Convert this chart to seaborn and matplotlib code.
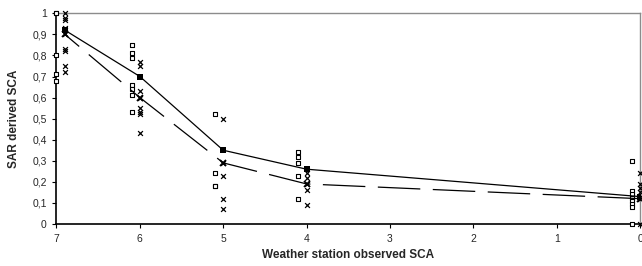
import matplotlib
matplotlib.use("Agg")
import matplotlib.pyplot as plt
import pandas as pd
import seaborn as sns
from matplotlib.ticker import FuncFormatter

# weather station observed SCA classes
station = [7, 6, 5, 4, 0]

# SAR derived SCA, first method (squares)
sq_7 = [1.0, 1.0, 0.80, 0.71, 0.68]
sq_6 = [0.85, 0.81, 0.79, 0.66, 0.64, 0.61, 0.53]
sq_5 = [0.52, 0.24, 0.18, 0.18]
sq_4 = [0.34, 0.32, 0.29, 0.23, 0.12]
sq_0 = [0.30, 0.155, 0.14, 0.125, 0.11, 0.095, 0.08, 0.0]

# SAR derived SCA, second method (crosses)
cr_7 = [1.0, 0.98, 0.97, 0.93, 0.92, 0.90, 0.83, 0.82, 0.75, 0.72]
cr_6 = [0.77, 0.75, 0.63, 0.60, 0.55, 0.53, 0.52, 0.43]
cr_5 = [0.50, 0.29, 0.23, 0.12, 0.07]
cr_4 = [0.24, 0.22, 0.19, 0.16, 0.09]
cr_0 = [0.24, 0.19, 0.17, 0.15, 0.13, 0.12, 0.0]

# mean lines
mean_sq = [0.92, 0.70, 0.35, 0.26, 0.13]
mean_cr = [0.90, 0.60, 0.29, 0.19, 0.12]


def to_df(groups, shift):
    rows = []
    for st, vals in zip(station, groups):
        # squares drawn just left of the class, crosses on it; at 7 both move inward
        x = st + shift if st < 7 else st + shift - 0.1
        rows += [(x, v) for v in vals]
    return pd.DataFrame(rows, columns=["station", "sar"])


df_sq = to_df([sq_7, sq_6, sq_5, sq_4, sq_0], 0.1)
df_cr = to_df([cr_7, cr_6, cr_5, cr_4, cr_0], 0.0)
line_x = [s if s < 7 else 6.9 for s in station]

sns.set_style("ticks")
plt.rcParams["font.family"] = ["Liberation Sans", "DejaVu Sans"]

fig, ax = plt.subplots(figsize=(6.42, 2.66), dpi=100)
fig.subplots_adjust(left=0.088, right=0.997, bottom=0.158, top=0.95)

sns.scatterplot(data=df_sq, x="station", y="sar", marker="s", s=10,
                facecolor="white", edgecolor="black", linewidth=0.8,
                clip_on=False, zorder=3, ax=ax)
sns.scatterplot(data=df_cr, x="station", y="sar", marker="x", s=12,
                color="black", linewidth=0.9, clip_on=False, zorder=3, ax=ax)
sns.lineplot(x=line_x, y=mean_sq, color="black", lw=0.9, marker="s",
             markersize=4, markeredgewidth=0, zorder=4, ax=ax)
sns.lineplot(x=line_x, y=mean_cr, color="black", lw=0.9, ls=(0, (34, 10)),
             marker="x", markersize=4, markeredgewidth=1.3,
             markeredgecolor="black", zorder=4, ax=ax)

ax.set_xlim(7, 0)
ax.set_ylim(0, 1)
ax.set_xticks(range(0, 8))
ax.set_yticks([i / 10 for i in range(11)])


def comma(v, pos):
    s = f"{v:.1f}".replace(".", ",")
    return s[0] if s.endswith(",0") else s


ax.yaxis.set_major_formatter(FuncFormatter(comma))
ax.tick_params(axis="both", labelsize=7.5, length=3, width=0.8, color="black",
               pad=4)

for side in ["left", "bottom"]:
    ax.spines[side].set_color("black")
    ax.spines[side].set_linewidth(1.2)
for side in ["top", "right"]:
    ax.spines[side].set_visible(True)
    ax.spines[side].set_color("#8c8c8c")
    ax.spines[side].set_linewidth(1.0)

ax.set_xlabel("Weather station observed SCA", fontsize=8.5, fontweight="bold",
              labelpad=4)
ax.set_ylabel("SAR derived SCA", fontsize=8.5, fontweight="bold", labelpad=9)

fig.savefig("out.png", dpi=100)
